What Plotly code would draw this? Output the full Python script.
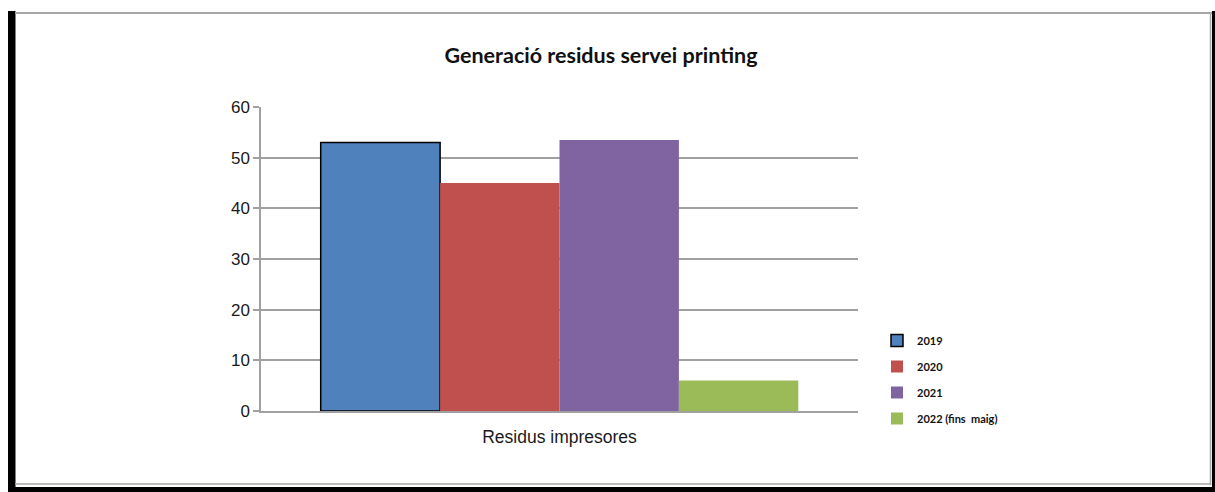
import plotly.graph_objects as go

categories = ["Residus impresores"]
series_names = ["2019", "2020", "2021", "2022 (fins  maig)"]
series_values = [[53], [45], [53.5], [6]]
colors = ["#4F81BD", "#C0504D", "#8064A2", "#9BBB59"]
y_ticks = [0, 10, 20, 30, 40, 50, 60]

W, H = 1215, 492
L, R, T, B = 261, 858, 107, 411

fig = go.Figure()
for i, (name, vals) in enumerate(zip(series_names, series_values)):
    fig.add_trace(go.Bar(
        x=categories, y=vals, name=name, legendgroup=name,
        marker=dict(color=colors[i],
                    line=dict(color="black" if i == 0 else colors[i], width=1.5 if i == 0 else 0)),
    ))

def px(x):
    return (x - L) / (R - L)

def py(y):
    return (B - y) / (B - T)

shapes = [
    dict(type="rect", xref="paper", yref="paper", x0=px(8), x1=px(15.5), y0=py(493), y1=py(11),
         fillcolor="black", line=dict(width=0)),
    dict(type="line", xref="paper", yref="paper", x0=px(15), x1=px(1212), y0=py(13), y1=py(13),
         line=dict(color="#A6A6A6", width=2)),
    dict(type="rect", xref="paper", yref="paper", x0=px(1212), x1=px(1216), y0=py(493), y1=py(11),
         fillcolor="black", line=dict(width=0)),
    dict(type="line", xref="paper", yref="paper", x0=px(1210.5), x1=px(1210.5), y0=py(485), y1=py(13),
         line=dict(color="#A6A6A6", width=1.5)),
    dict(type="rect", xref="paper", yref="paper", x0=px(8), x1=px(1216), y0=py(493), y1=py(487),
         fillcolor="black", line=dict(width=0)),
    dict(type="line", xref="paper", yref="paper", x0=px(15), x1=px(1211), y0=py(484), y1=py(484),
         line=dict(color="#A6A6A6", width=1.5)),
]

fig.update_layout(
    width=W, height=H,
    margin=dict(l=L, r=W - R, t=T, b=H - B, pad=0),
    paper_bgcolor="white", plot_bgcolor="white",
    barmode="group", bargap=0.2, bargroupgap=0,
    title=dict(text="<b>Generació residus servei printing</b>", x=601 / W, xref="container",
               xanchor="center", y=1 - 55 / H, yanchor="middle",
               font=dict(family="Lato", size=21.5, color="#111")),
    font=dict(family="Liberation Sans", color="#222"),
    showlegend=True,
    legend=dict(x=px(877), y=py(326), xanchor="left", yanchor="top",
                traceorder="grouped", tracegroupgap=7,
                font=dict(family="Lato", size=11, color="#111", weight="bold"),
                itemwidth=30, bgcolor="rgba(0,0,0,0)"),
    shapes=shapes,
)
fig.update_xaxes(showline=True, linecolor="#A0A0A0", linewidth=1.5, ticks="",
                 tickfont=dict(size=17.5, family="Liberation Sans", color="#1a1a1a"),
                 ticklabelstandoff=9)
fig.update_yaxes(range=[0, 60], tickvals=y_ticks, showgrid=True, gridcolor="#A0A0A0", gridwidth=1.5,
                 showline=True, linecolor="#A0A0A0", linewidth=1.5, ticks="outside", ticklen=6,
                 tickcolor="#A0A0A0", tickwidth=1.5, zeroline=False,
                 tickfont=dict(size=17, family="Liberation Sans", color="#1a1a1a"))

fig.write_html("out.html", config={"displayModeBar": False},
               post_script="document.body.style.margin='0';document.body.style.overflow='hidden';")
